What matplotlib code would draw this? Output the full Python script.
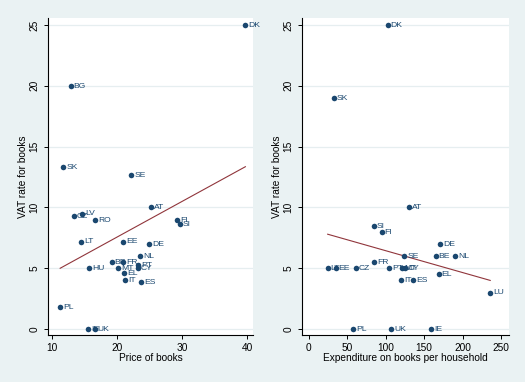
import numpy as np
import matplotlib
matplotlib.use('Agg')
import matplotlib.pyplot as plt

plt.rcParams['font.family'] = ['Liberation Sans', 'DejaVu Sans']

# left panel: price of books vs VAT
cty_price = ['DK', 'BG', 'SK', 'SE', 'AT', 'LV', 'CZ', 'RO', 'FI', 'SI', 'LT', 'EE', 'DE',
             'NL', 'BE', 'FR', 'PT', 'CY', 'MT', 'EL', 'HU', 'IT', 'ES', 'PL', 'IE', 'UK']
price = [39.7, 12.9, 11.8, 22.2, 25.2, 14.7, 13.4, 16.7, 29.2, 29.6, 14.5, 20.9, 24.9,
         23.5, 19.2, 21.0, 23.3, 23.2, 20.2, 21.1, 15.7, 21.3, 23.7, 11.3, 15.6, 16.6]
vat_price = [25, 20, 13.3, 12.7, 10, 9.5, 9.3, 9.0, 9.0, 8.6, 7.2, 7.2, 7.0,
             6.0, 5.5, 5.5, 5.3, 5.0, 5.0, 4.6, 5.0, 4.0, 3.9, 1.8, 0, 0]
# fitted line (ends at the data range)
fit_price_x = [11.3, 39.7]
fit_price_y = [5.0, 13.35]

# right panel: expenditure per household vs VAT
cty_exp = ['DK', 'SK', 'AT', 'SI', 'FI', 'DE', 'SE', 'BE', 'NL', 'FR', 'LT', 'EE', 'CZ',
           'PT', 'MT', 'CY', 'EL', 'IT', 'ES', 'LU', 'PL', 'UK', 'IE']
expend = [102.6, 32.5, 130, 84.8, 94.8, 170.5, 124.3, 165, 190, 85.3, 24.7, 35, 61,
          104.8, 120.8, 125, 168.8, 120.4, 136, 236, 58, 107, 159]
vat_exp = [25, 19, 10, 8.5, 8, 7, 6, 6, 6, 5.5, 5, 5, 5,
           5, 5, 5, 4.5, 4, 4, 3, 0, 0, 0]
fit_exp_x = [24.7, 236]
fit_exp_y = [7.8, 4.0]

bg = '#eaf2f3'
navy = '#1a476f'
maroon = '#90353b'

fig = plt.figure(figsize=(5.25, 3.82), dpi=100, facecolor=bg)
ax1 = fig.add_axes([0.0914, 0.1230, 0.3905, 0.8299])
ax2 = fig.add_axes([0.5752, 0.1230, 0.3943, 0.8299])


def panel(ax, x, y, names, fx, fy, xlim, xticks, xlabel):
    ax.set_facecolor('white')
    ax.set_xlim(xlim)
    ax.set_ylim(-0.49, 25.58)
    ax.set_yticks([0, 5, 10, 15, 20, 25])
    ax.set_xticks(xticks)
    ax.grid(axis='y', color='#e6eef0', linewidth=0.9)
    ax.set_axisbelow(True)
    for s in ['top', 'right']:
        ax.spines[s].set_visible(False)
    for s in ['left', 'bottom']:
        ax.spines[s].set_linewidth(0.8)
        ax.spines[s].set_color('black')
    ax.tick_params(length=3, width=0.7, labelsize=7.3, pad=2.5)
    ax.tick_params(axis='y', pad=3)
    for t in ax.get_yticklabels():
        t.set_rotation(90)
        t.set_va('center')
    ax.set_xlabel(xlabel, fontsize=7.3, labelpad=0.5)
    ax.set_ylabel('VAT rate for books', fontsize=7.3, labelpad=1)

    ax.plot(fx, fy, color=maroon, linewidth=0.8, zorder=2)

    ax.scatter(x, y, s=16, color=navy, zorder=3, linewidths=0)
    for n, xi, yi in zip(names, x, y):
        ax.annotate(n, (xi, yi), xytext=(2.2, -0.3), textcoords='offset points',
                    fontsize=6.1, color=navy, va='center', ha='left', zorder=4)


panel(ax1, price, vat_price, cty_price, fit_price_x, fit_price_y,
      (9.43, 40.87), [10, 20, 30, 40], 'Price of books')
panel(ax2, expend, vat_exp, cty_exp, fit_exp_x, fit_exp_y,
      (-8.7, 260.4), [0, 50, 100, 150, 200, 250],
      'Expenditure on books per household')

fig.savefig('out.png', dpi=100, facecolor=bg)
